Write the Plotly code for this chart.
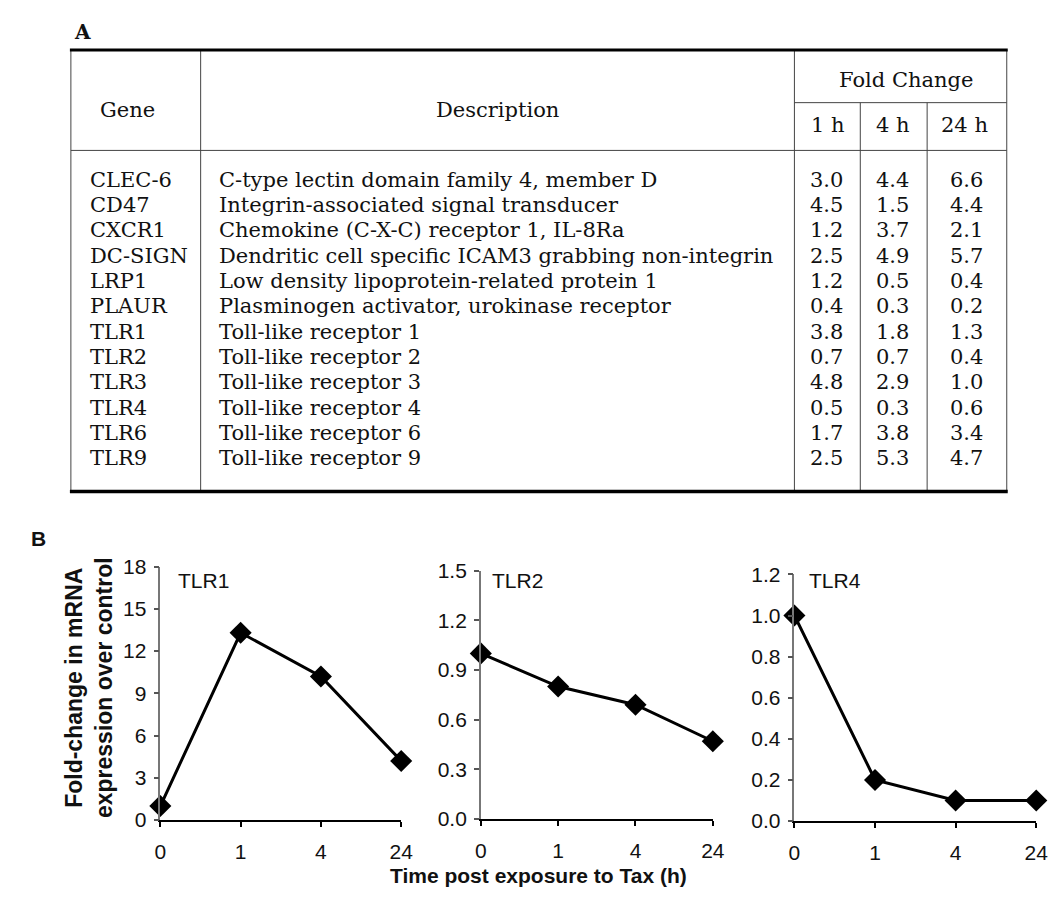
import plotly.graph_objects as go

W, H = 1063, 911

# ---------------- data ----------------
genes = ["CLEC-6", "CD47", "CXCR1", "DC-SIGN", "LRP1", "PLAUR",
         "TLR1", "TLR2", "TLR3", "TLR4", "TLR6", "TLR9"]
descriptions = [
    "C-type lectin domain family 4, member D",
    "Integrin-associated signal transducer",
    "Chemokine (C-X-C) receptor 1, IL-8Ra",
    "Dendritic cell specific ICAM3 grabbing non-integrin",
    "Low density lipoprotein-related protein 1",
    "Plasminogen activator, urokinase receptor",
    "Toll-like receptor 1",
    "Toll-like receptor 2",
    "Toll-like receptor 3",
    "Toll-like receptor 4",
    "Toll-like receptor 6",
    "Toll-like receptor 9",
]
fc_1h = [3.0, 4.5, 1.2, 2.5, 1.2, 0.4, 3.8, 0.7, 4.8, 0.5, 1.7, 2.5]
fc_4h = [4.4, 1.5, 3.7, 4.9, 0.5, 0.3, 1.8, 0.7, 2.9, 0.3, 3.8, 5.3]
fc_24h = [6.6, 4.4, 2.1, 5.7, 0.4, 0.2, 1.3, 0.4, 1.0, 0.6, 3.4, 4.7]
fc_headers = ["1 h", "4 h", "24 h"]

time_labels = ["0", "1", "4", "24"]
tlr1 = [1.0, 13.3, 10.2, 4.2]
tlr2 = [1.0, 0.80, 0.69, 0.47]
tlr4 = [1.0, 0.20, 0.10, 0.10]
panel_names = ["TLR1", "TLR2", "TLR4"]
y_max = [18, 1.5, 1.2]
y_step = [3, 0.3, 0.2]
y_fmt = ["d", ".1f", ".1f"]


def px(x):
    return x / W


def py(y):
    return 1 - y / H


SERIF = "DejaVu Serif"
SANS = "Arial, Liberation Sans, sans-serif"

fig = go.Figure()

# ---------------- Panel B: line charts ----------------
# pixel boxes: (x0, x1, ytop, ybottom)
boxes = [(157, 402, 569, 829), (483, 719, 573, 828), (802, 1048, 577, 830)]
series = [tlr1, tlr2, tlr4]
label_pos = [(173, 583), (492, 583), (815, 583)]

layout_axes = {}
annotations = []
for i, (vals, box) in enumerate(zip(series, boxes)):
    n = "" if i == 0 else str(i + 1)
    x0, x1, yt, yb = box
    fig.add_trace(go.Scatter(
        x=time_labels, y=vals, mode="lines+markers",
        xaxis="x" + n, yaxis="y" + n,
        line=dict(color="black", width=3),
        marker=dict(symbol="diamond", size=17, color="black"),
        cliponaxis=False, showlegend=False, hoverinfo="skip",
    ))
    layout_axes["xaxis" + n] = dict(
        domain=[px(x0), px(x1)], anchor="y" + n, type="category",
        range=[0, len(time_labels) - 1], showgrid=False, zeroline=False,
        showline=True, linecolor="black", linewidth=2,
        ticks="outside", ticklen=5, tickwidth=1.5, tickcolor="black",
        ticklabelstandoff=7,
        tickfont=dict(family=SANS, size=21, color="#111"),
        fixedrange=True,
    )
    layout_axes["yaxis" + n] = dict(
        domain=[py(yb), py(yt)], anchor="x" + n,
        range=[0, y_max[i]], dtick=y_step[i], tick0=0, tickformat=y_fmt[i],
        showgrid=False, zeroline=False,
        showline=True, linecolor="#777", linewidth=1.5,
        ticks="outside", ticklen=5, tickwidth=1.5, tickcolor="#555",
        ticklabelstandoff=3,
        tickfont=dict(family=SANS, size=21, color="#111"),
        fixedrange=True,
    )
    lx, ly = label_pos[i]
    annotations.append(dict(
        text=panel_names[i], x=px(lx), y=py(ly), xref="paper", yref="paper",
        xanchor="left", yanchor="middle", showarrow=False,
        font=dict(family=SANS, size=21, color="#111"),
    ))

annotations += [
    dict(text="<b>Fold-change in mRNA<br>expression over control</b>",
         x=px(84), y=py(693), xref="paper", yref="paper", textangle=-90,
         xanchor="center", yanchor="middle", showarrow=False,
         font=dict(family=SANS, size=23, color="#111")),
    dict(text="<b>Time post exposure to Tax (h)</b>",
         x=px(542), y=py(886), xref="paper", yref="paper",
         xanchor="center", yanchor="middle", showarrow=False,
         font=dict(family=SANS, size=21, color="#111")),
    dict(text="<b>B</b>", x=px(23), y=py(540), xref="paper", yref="paper",
         xanchor="left", yanchor="middle", showarrow=False,
         font=dict(family=SANS, size=21, color="#111")),
    dict(text="<b>A</b>", x=px(67), y=py(21), xref="paper", yref="paper",
         xanchor="left", yanchor="middle", showarrow=False,
         font=dict(family=SERIF, size=20, color="#111")),
]

# ---------------- Panel A: table ----------------
T_LEFT, T_RIGHT, T_TOP, T_BOT = 66, 1018, 39, 492
C_GENE, C_DESC, C_4H, C_24H = 198, 802, 869, 937
Y_FC, Y_HEAD = 93, 142
ROW0, ROW_STEP = 172, 26

shapes = []


def hline(y, xa, xb, w=1, c="#444"):
    shapes.append(dict(type="line", xref="paper", yref="paper",
                       x0=px(xa), x1=px(xb), y0=py(y), y1=py(y),
                       line=dict(color=c, width=w)))


def vline(x, ya, yb, w=1, c="#444"):
    shapes.append(dict(type="line", xref="paper", yref="paper",
                       x0=px(x), x1=px(x), y0=py(ya), y1=py(yb),
                       line=dict(color=c, width=w)))


vline(T_LEFT, T_TOP, T_BOT)
vline(T_RIGHT, T_TOP, T_BOT)
vline(C_GENE, T_TOP, T_BOT)
vline(C_DESC, T_TOP, T_BOT)
vline(C_4H, Y_FC, T_BOT)
vline(C_24H, Y_FC, T_BOT)
hline(Y_FC, C_DESC, T_RIGHT)
hline(Y_HEAD, T_LEFT, T_RIGHT)
hline(T_TOP, T_LEFT - 1, T_RIGHT + 1, w=3, c="black")
hline(T_BOT, T_LEFT - 1, T_RIGHT + 1, w=3.5, c="black")


def text(t, x, y, anchor="left", size=21):
    annotations.append(dict(
        text=t, x=px(x), y=py(y), xref="paper", yref="paper",
        xanchor=anchor, yanchor="middle", showarrow=False,
        font=dict(family=SERIF, size=size, color="#111")))


text("Gene", 124, 101, "center")
text("Description", 500, 101, "center")
text("Fold Change", 916, 70, "center")
hdr_x = [836, 902, 975]
for hx, h in zip(hdr_x, fc_headers):
    text(h, hx, 116, "center")

num_x = [835, 902, 977]
for r in range(len(genes)):
    yy = ROW0 + r * ROW_STEP
    text(genes[r], 83, yy)
    text(descriptions[r], 215, yy)
    for cx, col in zip(num_x, (fc_1h, fc_4h, fc_24h)):
        text(f"{col[r]:.1f}", cx, yy, "center")

fig.update_layout(
    width=W, height=H, margin=dict(l=0, r=0, t=0, b=0),
    paper_bgcolor="white", plot_bgcolor="white",
    annotations=annotations, shapes=shapes, showlegend=False,
    **layout_axes,
)

fig.write_html("out.html")
